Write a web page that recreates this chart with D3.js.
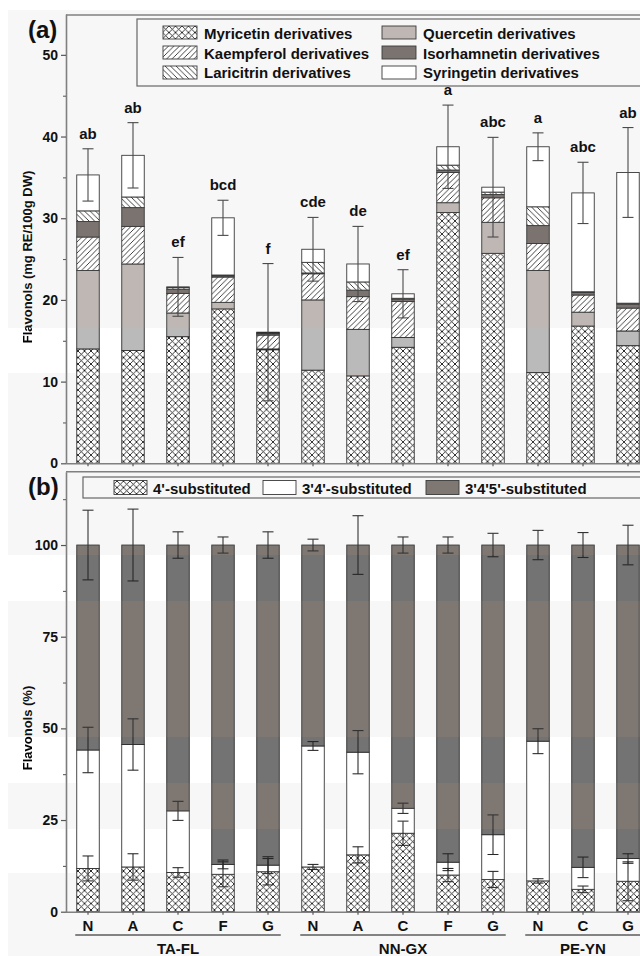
<!DOCTYPE html>
<html>
<head>
<meta charset="utf-8">
<script src="https://cdn.jsdelivr.net/npm/d3@7"></script>
<style>
  body { margin: 0; background: #fff; }
  svg { display: block; font-family: "Liberation Sans", Arial, sans-serif; font-weight: bold; }
</style>
</head>
<body>
<div id="chart"></div>
<script>
// sites and treatments (x categories)
const sites = ["TA-FL", "NN-GX", "PE-YN"];
const treatments = [["N", "A", "C", "F", "G"], ["N", "A", "C", "F", "G"], ["N", "C", "G"]];

// panel (a): flavonol classes, mg RE/100g DW
const compounds = ["Myricetin derivatives", "Quercetin derivatives", "Kaempferol derivatives",
  "Isorhamnetin derivatives", "Laricitrin derivatives", "Syringetin derivatives"];
const myricetin    = [14.0, 13.8, 15.5, 18.9, 13.9, 11.4, 10.7, 14.2, 30.7, 25.7, 11.1, 16.8, 14.4];
const quercetin    = [9.6, 10.6, 2.9, 0.8, 0.1, 8.6, 5.7, 1.2, 1.2, 3.8, 12.5, 1.7, 1.8];
const kaempferol   = [4.1, 4.6, 2.4, 3.1, 1.7, 3.2, 4.0, 4.4, 3.7, 3.0, 3.3, 2.1, 2.8];
const isorhamnetin = [1.9, 2.3, 0.5, 0.15, 0.2, 0.1, 0.8, 0.3, 0.3, 0.4, 2.2, 0.3, 0.5];
const laricitrin   = [1.3, 1.3, 0.2, 0.1, 0.1, 1.3, 1.0, 0.1, 0.6, 0.3, 2.3, 0.1, 0.1];
const syringetin   = [4.4, 5.1, 0.1, 7.0, 0.05, 1.6, 2.2, 0.55, 2.25, 0.6, 7.35, 12.1, 16.0];
const totalErr     = [3.2, 4.0, 3.6, 2.15, 8.4, 3.9, 4.6, 2.95, 5.1, 6.1, 1.7, 3.75, 5.5];
const letters      = ["ab", "ab", "ef", "bcd", "f", "cde", "de", "ef", "a", "abc", "a", "abc", "ab"];

// panel (b): substitution pattern, %
const substitution = ["4'-substituted", "3'4'-substituted", "3'4'5'-substituted"];
const sub4    = [11.8, 12.2, 10.7, 10.2, 10.9, 12.2, 15.5, 21.4, 10.0, 8.8, 8.4, 6.1, 8.3];
const sub34   = [32.3, 33.4, 16.8, 2.7, 1.8, 33.0, 28.0, 6.8, 3.5, 12.2, 38.1, 6.0, 6.2];
const sub345  = [55.9, 54.4, 72.5, 87.1, 87.3, 54.8, 56.5, 71.8, 86.5, 79.0, 53.5, 87.9, 85.5];
const err4    = [3.4, 3.6, 1.3, 3.4, 3.6, 0.7, 2.2, 3.3, 1.8, 2.2, 0.6, 0.9, 5.3];
const err34   = [6.2, 7.0, 2.6, 1.2, 2.3, 1.2, 5.9, 1.4, 2.3, 5.4, 3.4, 2.8, 1.3];
const err345  = [9.5, 9.8, 3.6, 2.2, 3.6, 1.6, 8.0, 2.2, 2.2, 3.2, 4.0, 3.4, 5.4];

const yTicksA = [0, 10, 20, 30, 40, 50];
const yTicksB = [0, 25, 50, 75, 100];

const width = 640, height = 956;

const svg = d3.select("#chart").append("svg")
  .attr("width", width).attr("height", height);
const defs = svg.append("defs");

// hatch patterns
const cross = defs.append("pattern").attr("id", "cross")
  .attr("patternUnits", "userSpaceOnUse").attr("width", 6.5).attr("height", 6.5);
cross.append("rect").attr("width", 6.5).attr("height", 6.5).attr("fill", "#fff");
cross.append("path").attr("d", "M0,0L6.5,6.5M6.5,0L0,6.5")
  .attr("stroke", "#111").attr("stroke-width", 0.85);

const fwd = defs.append("pattern").attr("id", "fwd")
  .attr("patternUnits", "userSpaceOnUse").attr("width", 5.5).attr("height", 5.5);
fwd.append("rect").attr("width", 5.5).attr("height", 5.5).attr("fill", "#fff");
fwd.append("path").attr("d", "M0,5.5L5.5,0M-1,1L1,-1M4.5,6.5L6.5,4.5")
  .attr("stroke", "#111").attr("stroke-width", 0.8);

const back = defs.append("pattern").attr("id", "back")
  .attr("patternUnits", "userSpaceOnUse").attr("width", 5.5).attr("height", 5.5);
back.append("rect").attr("width", 5.5).attr("height", 5.5).attr("fill", "#fff");
back.append("path").attr("d", "M0,0L5.5,5.5M-1,4.5L1,6.5M4.5,-1L6.5,1")
  .attr("stroke", "#111").attr("stroke-width", 0.8);

// the scan has pale/neutral horizontal stripes; redraw them via a filtered copy
const band = defs.append("filter").attr("id", "band")
  .attr("color-interpolation-filters", "sRGB");
const ka = 1.104, kb = -0.069;
const row = `${ka * 0.2126} ${ka * 0.7152} ${ka * 0.0722} 0 ${kb}`;
band.append("feColorMatrix").attr("type", "matrix")
  .attr("values", `${row} ${row} ${row} 0 0 0 1 0`);
const stripes = defs.append("clipPath").attr("id", "stripes");
[[328, 373], [555, 601], [737, 783], [829, 873]].forEach(([a, b]) =>
  stripes.append("rect").attr("x", 0).attr("y", a).attr("width", width).attr("height", b - a));

const fig = svg.append("g").attr("id", "fig");
fig.append("rect").attr("x", 8).attr("y", 10)
  .attr("width", width - 8).attr("height", height - 10).attr("fill", "#f7f7f7");

const ids = sites.flatMap((s, i) => treatments[i].map(t => `${s}|${t}`));
const x = d3.scaleBand().domain(ids).range([65.5, 650.5]).paddingInner(0.5).paddingOuter(0.25);
const bw = x.bandwidth();

const ya = d3.scaleLinear().domain([0, 55]).range([463.3, 14]);
const yb = d3.scaleLinear().domain([0, 120]).range([911.7, 471.7]);

const axisColor = "#808080";

function styleAxis(g) {
  g.attr("font-family", null).attr("font-size", 14);
  g.select(".domain").attr("stroke", axisColor).attr("stroke-width", 1.6);
  g.selectAll(".tick line").attr("stroke", "#555").attr("stroke-width", 1.2);
  g.selectAll(".tick text").attr("fill", "#111");
}

function errorBar(g, cx, y0, y1) {
  g.append("line").attr("x1", cx).attr("x2", cx).attr("y1", y0).attr("y2", y1);
  g.append("line").attr("x1", cx - 5.5).attr("x2", cx + 5.5).attr("y1", y0).attr("y2", y0);
  g.append("line").attr("x1", cx - 5.5).attr("x2", cx + 5.5).attr("y1", y1).attr("y2", y1);
}

// ---------- panel (a) ----------
const keysA = ["myr", "que", "kae", "iso", "lar", "syr"];
const fillA = {myr: "url(#cross)", que: "#bfb7b3", kae: "url(#fwd)", iso: "#7b736f", lar: "url(#back)", syr: "#fff"};
const dataA = ids.map((id, i) => ({
  id, myr: myricetin[i], que: quercetin[i], kae: kaempferol[i],
  iso: isorhamnetin[i], lar: laricitrin[i], syr: syringetin[i], err: totalErr[i], letter: letters[i]
}));
const stackA = d3.stack().keys(keysA)(dataA);

fig.append("g").selectAll("g").data(stackA).join("g")
  .attr("fill", d => fillA[d.key])
  .selectAll("rect").data(d => d).join("rect")
  .attr("x", d => x(d.data.id))
  .attr("width", bw)
  .attr("y", d => ya(d[1]))
  .attr("height", d => ya(d[0]) - ya(d[1]))
  .attr("stroke", "#3a3a3a").attr("stroke-width", 0.9);

const errA = fig.append("g").attr("stroke", "#4a4a4a").attr("stroke-width", 1.1);
dataA.forEach(d => {
  const tot = keysA.reduce((s, k) => s + d[k], 0);
  const cx = x(d.id) + bw / 2;
  errorBar(errA, cx, ya(tot + d.err), ya(tot - d.err));
  fig.append("text").attr("x", cx).attr("y", ya(tot + d.err) - 10)
    .attr("text-anchor", "middle").attr("font-size", 15).attr("fill", "#111")
    .text(d.letter);
});

fig.append("g").attr("transform", "translate(66,0)")
  .call(d3.axisLeft(ya).tickValues(yTicksA).tickSize(5).tickPadding(3).tickSizeOuter(0))
  .call(styleAxis);
fig.append("g").attr("transform", "translate(66,0)")
  .call(d3.axisLeft(ya).tickValues([5, 15, 25, 35, 45]).tickSize(3).tickFormat(""))
  .call(g => g.select(".domain").remove())
  .call(g => g.selectAll(".tick line").attr("stroke", "#555"));
fig.append("g").attr("transform", `translate(0,${ya(0)})`)
  .call(d3.axisBottom(x).tickSize(3).tickFormat("").tickSizeOuter(0))
  .call(styleAxis);
fig.append("line").attr("x1", 66).attr("x2", width).attr("y1", 15).attr("y2", 15)
  .attr("stroke", axisColor).attr("stroke-width", 1.6);

fig.append("text").attr("transform", "translate(32,257) rotate(-90)")
  .attr("text-anchor", "middle").attr("font-size", 13).attr("fill", "#111")
  .text("Flavonols (mg RE/100g DW)");
fig.append("text").attr("x", 28).attr("y", 38).attr("font-size", 24).attr("fill", "#111").text("(a)");

// legend (a)
const legA = fig.append("g");
legA.append("rect").attr("x", 137).attr("y", 19).attr("width", 520).attr("height", 67)
  .attr("fill", "none").attr("stroke", "#666").attr("stroke-width", 1.2);
keysA.forEach((k, i) => {
  const col = i % 2, r = Math.floor(i / 2);
  const sx = col ? 382 : 163;
  legA.append("rect").attr("x", sx).attr("y", 26 + r * 20).attr("width", 34).attr("height", 13)
    .attr("fill", fillA[k]).attr("stroke", "#3a3a3a").attr("stroke-width", 0.9);
  legA.append("text").attr("x", sx + 41).attr("y", 39 + r * 19.5)
    .attr("font-size", 15).attr("fill", "#111").text(compounds[i]);
});

// ---------- panel (b) ----------
const keysB = ["s4", "s34", "s345"];
const fillB = {s4: "url(#cross)", s34: "#fff", s345: "#7f7772"};
const dataB = ids.map((id, i) => ({
  id, s4: sub4[i], s34: sub34[i], s345: sub345[i],
  e4: err4[i], e34: err34[i], e345: err345[i]
}));
const stackB = d3.stack().keys(keysB)(dataB);

fig.append("g").selectAll("g").data(stackB).join("g")
  .attr("fill", d => fillB[d.key])
  .selectAll("rect").data(d => d).join("rect")
  .attr("x", d => x(d.data.id))
  .attr("width", bw)
  .attr("y", d => yb(d[1]))
  .attr("height", d => yb(d[0]) - yb(d[1]))
  .attr("stroke", "#3a3a3a").attr("stroke-width", 0.9);

const errB = fig.append("g").attr("stroke", "#333").attr("stroke-width", 1.1);
stackB.forEach(layer => {
  const ek = { s4: "e4", s34: "e34", s345: "e345" }[layer.key];
  layer.forEach(d => {
    const cx = x(d.data.id) + bw / 2;
    const e = d.data[ek];
    errorBar(errB, cx, yb(d[1] + e), yb(d[1] - e));
  });
});

fig.append("g").attr("transform", "translate(66,0)")
  .call(d3.axisLeft(yb).tickValues(yTicksB).tickSize(5).tickPadding(3).tickSizeOuter(0))
  .call(styleAxis);
fig.append("g").attr("transform", "translate(66,0)")
  .call(d3.axisLeft(yb).tickValues([12.5, 37.5, 62.5, 87.5, 112.5]).tickSize(3).tickFormat(""))
  .call(g => g.select(".domain").remove())
  .call(g => g.selectAll(".tick line").attr("stroke", "#555"));
fig.append("g").attr("transform", `translate(0,${yb(0)})`)
  .call(d3.axisBottom(x).tickSize(3).tickPadding(6).tickSizeOuter(0)
    .tickFormat(d => d.split("|")[1]))
  .call(styleAxis)
  .call(g => g.selectAll(".tick text").attr("font-size", 15));
fig.append("line").attr("x1", 66).attr("x2", width).attr("y1", 471.7).attr("y2", 471.7)
  .attr("stroke", axisColor).attr("stroke-width", 1.6);

fig.append("text").attr("transform", "translate(32,728) rotate(-90)")
  .attr("text-anchor", "middle").attr("font-size", 13).attr("fill", "#111")
  .text("Flavonols (%)");
fig.append("text").attr("x", 28).attr("y", 495).attr("font-size", 24).attr("fill", "#111").text("(b)");

// legend (b)
const legB = fig.append("g");
legB.append("rect").attr("x", 83).attr("y", 477).attr("width", 570).attr("height", 21)
  .attr("fill", "none").attr("stroke", "#666").attr("stroke-width", 1.2);
const legBx = [114, 263, 426];
keysB.forEach((k, i) => {
  legB.append("rect").attr("x", legBx[i]).attr("y", 480.5).attr("width", 33).attr("height", 14)
    .attr("fill", fillB[k]).attr("stroke", "#3a3a3a").attr("stroke-width", 0.9);
  legB.append("text").attr("x", legBx[i] + 39).attr("y", 494)
    .attr("font-size", 15).attr("fill", "#111").text(substitution[i]);
});

// site groups under the x axis
sites.forEach((s, i) => {
  const first = `${s}|${treatments[i][0]}`;
  const last = `${s}|${treatments[i][treatments[i].length - 1]}`;
  const x0 = x(first) - 1.5, x1 = x(last) + bw + 1.5;
  fig.append("line").attr("x1", x0).attr("x2", x1).attr("y1", 935).attr("y2", 935)
    .attr("stroke", "#111").attr("stroke-width", 1.2);
  fig.append("text").attr("x", (x(first) + x(last) + bw) / 2).attr("y", 954)
    .attr("text-anchor", "middle").attr("font-size", 15).attr("fill", "#111").text(s);
});

// desaturated stripes over the figure
svg.append("use").attr("href", "#fig")
  .attr("clip-path", "url(#stripes)").attr("filter", "url(#band)");
</script>
</body>
</html>
